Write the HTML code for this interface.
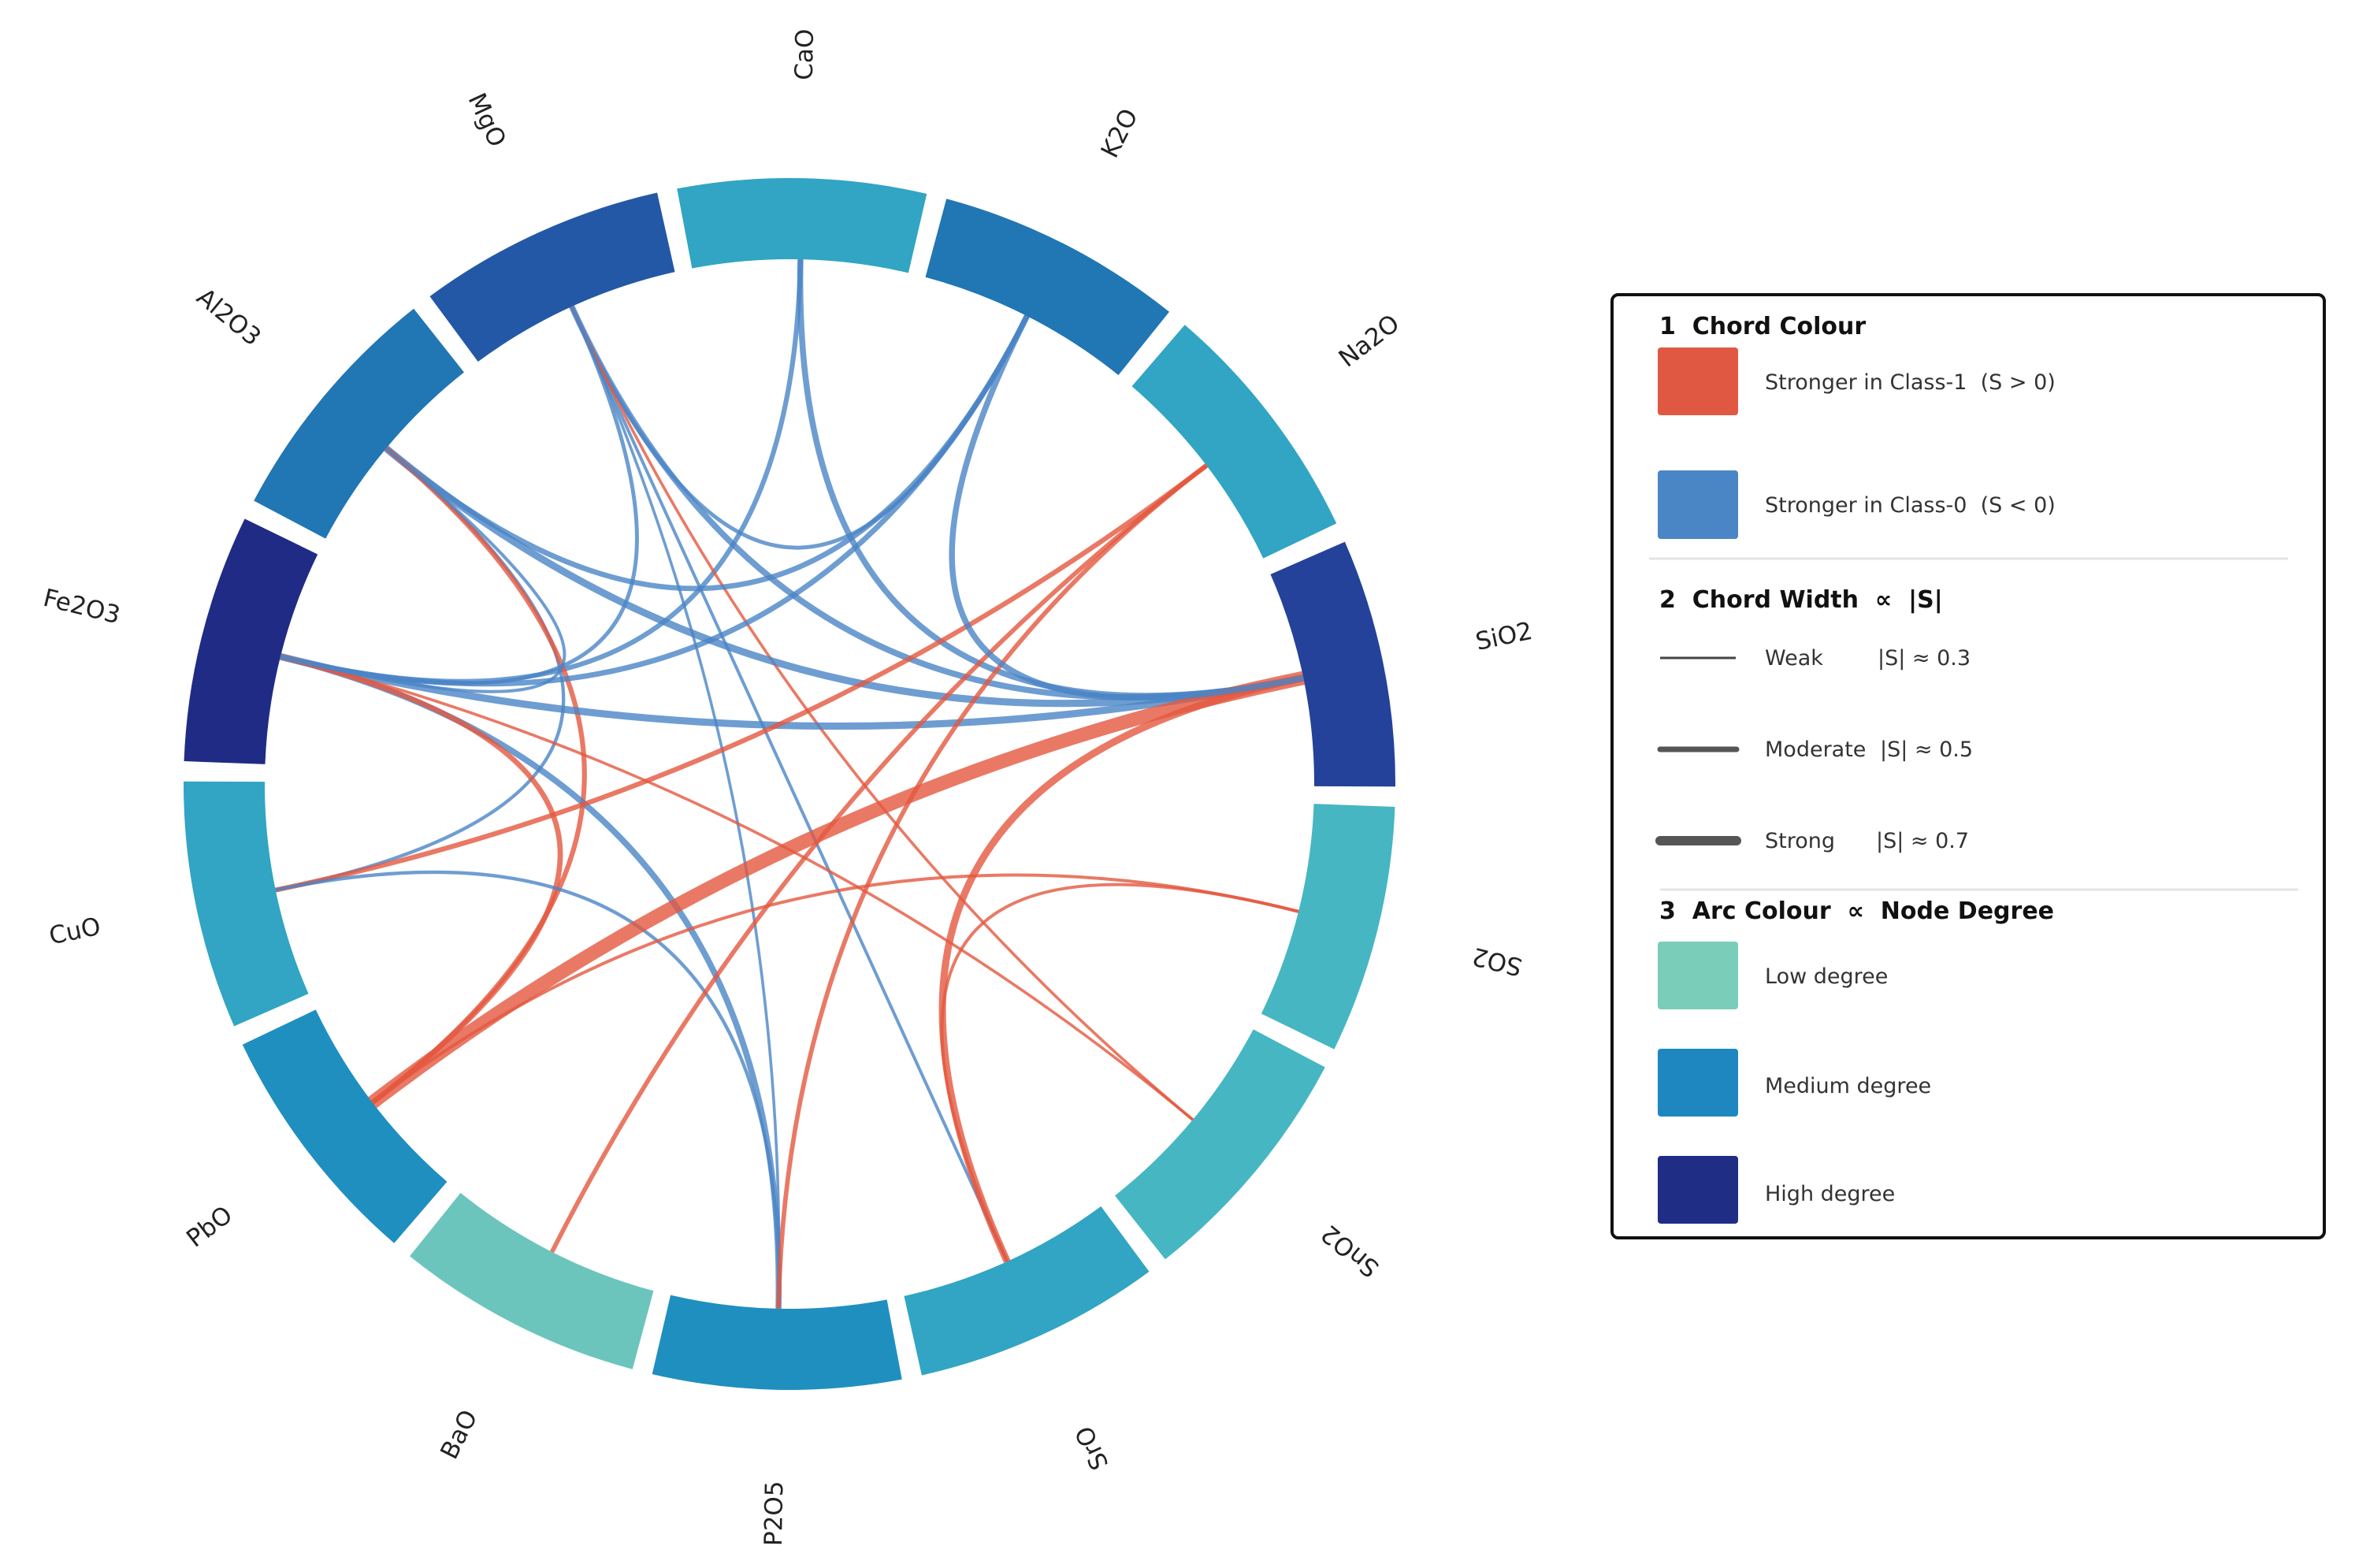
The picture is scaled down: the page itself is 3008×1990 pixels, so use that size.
<!DOCTYPE html>
<html><head><meta charset="utf-8"><style>
html,body{margin:0;padding:0;background:#fff;}
svg{display:block;font-family:"DejaVu Sans","Liberation Sans",sans-serif;}
</style></head><body>
<svg id="chart" width="3008" height="1990" viewBox="0 0 3008 1990" xmlns="http://www.w3.org/2000/svg">
<rect x="0" y="0" width="3008" height="1990" fill="#fff"/>
<g id="arcs"></g>
<g id="chords"></g>
<g id="labels"></g>

<g>
<rect x="2046" y="374" width="904" height="1197" rx="8" fill="#fff" stroke="#111" stroke-width="4"/>
<text x="2106" y="424" font-size="30" font-weight="bold" fill="#111" xml:space="preserve">1  Chord Colour</text>
<rect x="2104" y="441" width="102" height="86" rx="4" fill="#e15842"/>
<text x="2240" y="494" font-size="27" fill="#333" xml:space="preserve">Stronger in Class-1  (S &gt; 0)</text>
<rect x="2104" y="597" width="102" height="87" rx="4" fill="#4a85c5"/>
<text x="2240" y="650" font-size="27" fill="#333" xml:space="preserve">Stronger in Class-0  (S &lt; 0)</text>
<line x1="2093" y1="709" x2="2904" y2="709" stroke="#e4e4e4" stroke-width="3"/>
<text x="2106" y="771" font-size="30" font-weight="bold" fill="#111" xml:space="preserve">2  Chord Width  ∝  |S|</text>
<line x1="2107" y1="835" x2="2203" y2="835" stroke="#444" stroke-width="3"/>
<text x="2240" y="844" font-size="27" fill="#333">Weak</text>
<text x="2383" y="844" font-size="27" fill="#333">|S| ≈ 0.3</text>
<line x1="2107" y1="951" x2="2204" y2="951" stroke="#555" stroke-width="7" stroke-linecap="round"/>
<text x="2240" y="960" font-size="27" fill="#333">Moderate</text>
<text x="2386" y="960" font-size="27" fill="#333">|S| ≈ 0.5</text>
<line x1="2107" y1="1067" x2="2204" y2="1067" stroke="#555" stroke-width="12" stroke-linecap="round"/>
<text x="2240" y="1076" font-size="27" fill="#333">Strong</text>
<text x="2381" y="1076" font-size="27" fill="#333">|S| ≈ 0.7</text>
<line x1="2107" y1="1129" x2="2917" y2="1129" stroke="#e4e4e4" stroke-width="3"/>
<text x="2106" y="1166" font-size="30" font-weight="bold" fill="#111" xml:space="preserve">3  Arc Colour  ∝  Node Degree</text>
<rect x="2104" y="1195" width="102" height="86" rx="4" fill="#79cdb9"/>
<text x="2240" y="1248" font-size="27" fill="#333">Low degree</text>
<rect x="2104" y="1331" width="102" height="86" rx="4" fill="#1f87bf"/>
<text x="2240" y="1387" font-size="27" fill="#333">Medium degree</text>
<rect x="2104" y="1467" width="102" height="86" rx="4" fill="#1f2d85"/>
<text x="2240" y="1524" font-size="27" fill="#333">High degree</text>
</g>
</svg>
<script>
const nodes = ["CaO","K2O","Na2O","SiO2","SO2","SnO2","SrO","P2O5","BaO","PbO","CuO","Fe2O3","Al2O3","MgO"];
const nodeDegree = [4,6,4,9,3,3,4,5,2,5,4,10,6,7];
const labelRotation = [-89,-63.3,-37.6,-11.9,193.8,219.6,245.2,-89,-63.3,-37.6,-11.9,13.8,39.5,65.2];
const edgeSource = ["CaO","CaO","MgO","MgO","MgO","MgO","MgO","Al2O3","Al2O3","Al2O3","Al2O3","Fe2O3","Fe2O3","Fe2O3","Fe2O3","Fe2O3","CuO","CuO","PbO","PbO","BaO","P2O5","SrO","SrO","K2O","MgO","Al2O3"];
const edgeTarget = ["SiO2","Fe2O3","K2O","SiO2","P2O5","SrO","SnO2","K2O","SiO2","CuO","PbO","K2O","SiO2","P2O5","PbO","SnO2","Na2O","P2O5","SiO2","SO2","Na2O","Na2O","SiO2","SO2","SiO2","Fe2O3","Fe2O3"];
const edgeS = [-0.45,-0.4,-0.35,-0.45,-0.28,-0.3,0.28,-0.42,-0.5,-0.32,0.4,-0.42,-0.5,-0.45,0.42,0.28,0.4,-0.32,0.72,0.3,0.38,0.38,0.5,0.3,-0.45,-0.35,-0.3];

const NS="http://www.w3.org/2000/svg";
const CX=1002, CY=995, RO=769, RI=666, RL=926;
const palette={2:"#6cc5bd",3:"#46b6c2",4:"#31a5c3",5:"#1f8fc0",6:"#2176b4",7:"#2358a6",9:"#24429a",10:"#1f2b84"};
function angleOf(i){return 88.8 - i*360/nodes.length;}
function pt(a,r){const t=a*Math.PI/180;return [CX+r*Math.cos(t), CY-r*Math.sin(t)];}
function colorOf(d){return palette[d]||"#31a5c3";}
const arcs=document.getElementById('arcs');
const half=11.9;
nodes.forEach((n,i)=>{
  const a=angleOf(i), a1=a+half, a2=a-half;
  const p1=pt(a1,RO),p2=pt(a2,RO),p3=pt(a2,RI),p4=pt(a1,RI);
  const p=document.createElementNS(NS,'path');
  p.setAttribute('d',`M${p1[0]},${p1[1]} A${RO},${RO} 0 0 1 ${p2[0]},${p2[1]} L${p3[0]},${p3[1]} A${RI},${RI} 0 0 0 ${p4[0]},${p4[1]} Z`);
  p.setAttribute('fill',colorOf(nodeDegree[i]));
  
  
  arcs.appendChild(p);
  const lp=pt(a,RL);
  const t=document.createElementNS(NS,'text');
  t.setAttribute('x',lp[0]);t.setAttribute('y',lp[1]);
  t.setAttribute('text-anchor','middle');t.setAttribute('dominant-baseline','central');
  t.setAttribute('font-size','31');t.setAttribute('fill','#222');
  t.setAttribute('transform',`rotate(${labelRotation[i]} ${lp[0]} ${lp[1]})`);
  t.textContent=n;
  
  
  document.getElementById('labels').appendChild(t);
});
const chords=document.getElementById('chords');
edgeS.forEach((s,k)=>{
  const i=nodes.indexOf(edgeSource[k]), j=nodes.indexOf(edgeTarget[k]);
  const p1=pt(angleOf(i),RI), p2=pt(angleOf(j),RI);
  const path=document.createElementNS(NS,'path');
  path.setAttribute('d',`M${p1[0]},${p1[1]} Q${CX},${CY} ${p2[0]},${p2[1]}`);
  path.setAttribute('fill','none');
  path.setAttribute('stroke', s>0?'#e4573f':'#4a85c5');
  path.setAttribute('stroke-opacity','0.8');
  path.setAttribute('stroke-width', (1.1+32*s*s).toFixed(2));
  
  
  chords.appendChild(path);
});
</script>
</body></html>
